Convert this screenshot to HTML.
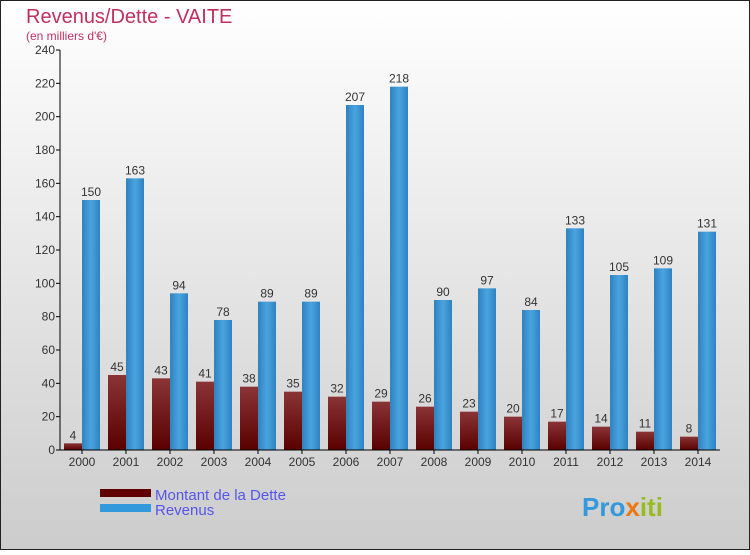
<!DOCTYPE html>
<html><head><meta charset="utf-8">
<style>
body{margin:0;width:750px;height:550px;overflow:hidden;font-family:"Liberation Sans",sans-serif}
</style></head>
<body>
<svg id="chart" width="750" height="550" xmlns="http://www.w3.org/2000/svg">
<defs>
<linearGradient id="bg" x1="0" y1="0" x2="0" y2="1"><stop offset="0" stop-color="#ffffff"/><stop offset="1" stop-color="#cccccc"/></linearGradient>
<linearGradient id="gd" x1="0" y1="0" x2="0" y2="1"><stop offset="0" stop-color="#8a3436"/><stop offset="1" stop-color="#5a0000"/></linearGradient>
<linearGradient id="gr" x1="0" y1="0" x2="1" y2="0"><stop offset="0" stop-color="#2e82be"/><stop offset="0.5" stop-color="#4aa4e0"/><stop offset="1" stop-color="#2e82be"/></linearGradient>
</defs>
<rect x="0.5" y="0.5" width="749" height="549" fill="url(#bg)" stroke="#222"/>
<text x="26" y="23" font-size="20" fill="#c0305e">Revenus/Dette - VAITE</text>
<text x="26" y="40" font-size="12" fill="#c0305e">(en milliers d'€)</text>
<g id="plot"></g>
<g>
<rect x="100" y="489" width="51" height="8" fill="#600000"/>
<text x="155" y="500" font-size="15" fill="#5555ee">Montant de la Dette</text>
<rect x="100" y="504" width="51" height="8" fill="#3399dd"/>
<text x="155" y="515" font-size="15" fill="#5555ee">Revenus</text>
</g>
<text x="582" y="516" font-size="26" font-weight="bold" fill="#3399dd">Pro<tspan fill="#ee7711">x</tspan><tspan fill="#99bb22">iti</tspan></text>
</svg>
<script>
const years=["2000","2001","2002","2003","2004","2005","2006","2007","2008","2009","2010","2011","2012","2013","2014"];
const debt=[4,45,43,41,38,35,32,29,26,23,20,17,14,11,8];
const revenue=[150,163,94,78,89,89,207,218,90,97,84,133,105,109,131];
const yTicks=[0,20,40,60,80,100,120,140,160,180,200,220,240];
const NS="http://www.w3.org/2000/svg";
const g=document.getElementById('plot');
const y=v=>450-v*400/240;
const xc=i=>82+i*44;
function mk(t,a,txt){const e=document.createElementNS(NS,t);for(const k in a)e.setAttribute(k,a[k]);if(txt!==undefined)e.textContent=txt;g.appendChild(e);return e;}
yTicks.forEach(t=>{
 const l=mk('line',{x1:56,x2:60,y1:y(t),y2:y(t),stroke:'#000'});
 
 
 const tx=mk('text',{x:55,y:y(t)+4,'font-size':12,fill:'#333','text-anchor':'end'},t);
 
 
});
years.forEach((yr,i)=>{
 const c=xc(i);
 const b1=mk('rect',{x:c-18,y:y(debt[i]),width:18,height:450-y(debt[i]),fill:'url(#gd)'});
 
 
 const b2=mk('rect',{x:c,y:y(revenue[i]),width:18,height:450-y(revenue[i]),fill:'url(#gr)'});
 
 
 const v1=mk('text',{x:c-9,y:y(debt[i])-4,'font-size':12,fill:'#333','text-anchor':'middle'},debt[i]);
 
 
 const v2=mk('text',{x:c+9,y:y(revenue[i])-4,'font-size':12,fill:'#333','text-anchor':'middle'},revenue[i]);
 
 
 const tk=mk('line',{x1:c,x2:c,y1:450,y2:454,stroke:'#000'});
 
 
 const xl=mk('text',{x:c,y:466,'font-size':12,fill:'#333','text-anchor':'middle'},yr);
 
 
});
const ya=mk('line',{x1:60,x2:60,y1:y(240),y2:450,stroke:'#000'});


const xa=mk('line',{x1:60,x2:720,y1:450,y2:450,stroke:'#000'});


</script>
</body></html>
